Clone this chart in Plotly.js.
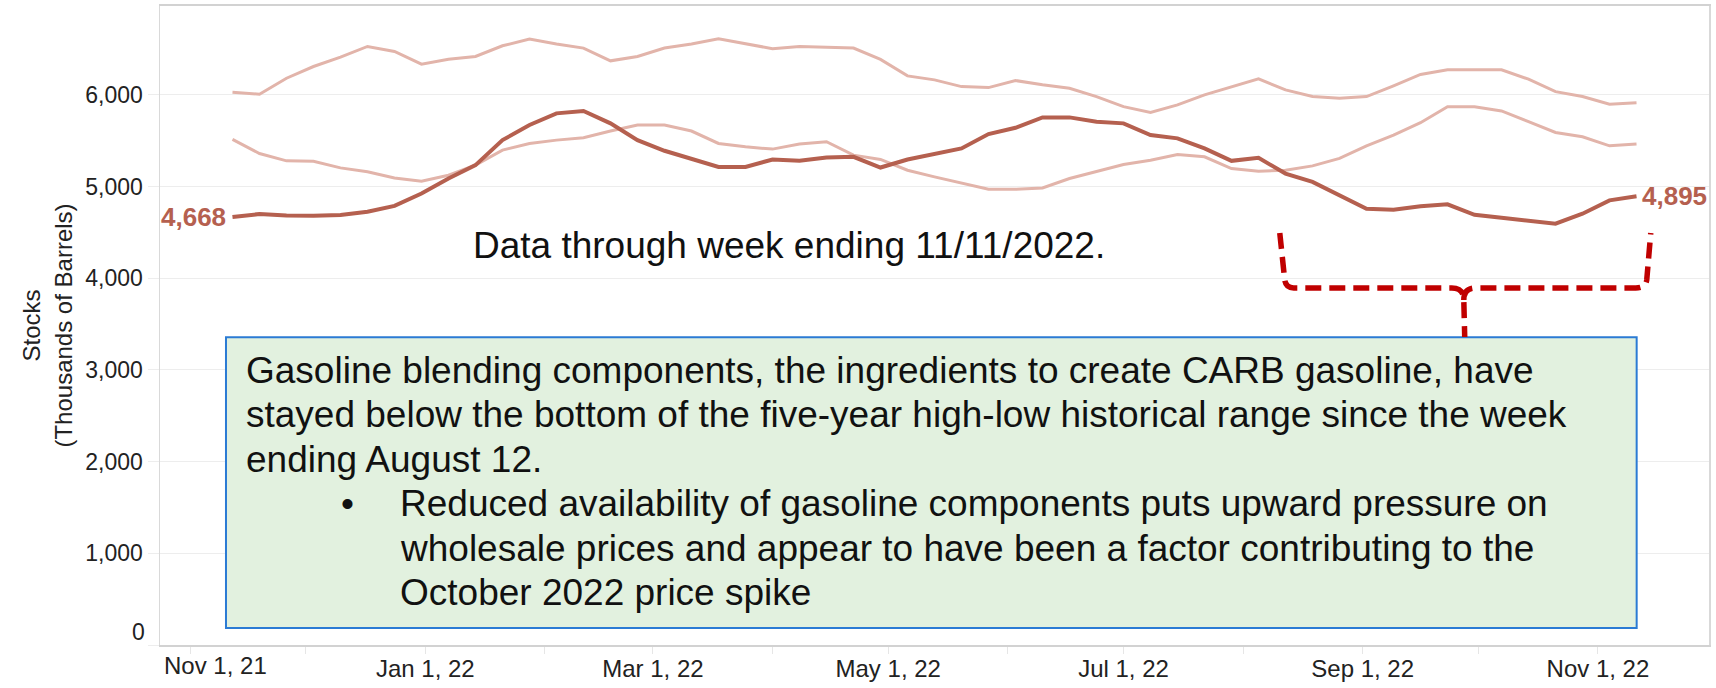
<!DOCTYPE html>
<html>
<head>
<meta charset="utf-8">
<script src="https://cdn.plot.ly/plotly-3.0.1.min.js"></script>
<style>
  html, body { margin: 0; padding: 0; background: #ffffff; }
  #chart { width: 1716px; height: 688px; }
</style>
</head>
<body>
<div id="chart"></div>
<script>
// Week-ending dates (weekly data through 11/11/2022)
const weeks = [
  '2021-11-12','2021-11-19','2021-11-26','2021-12-03','2021-12-10','2021-12-17','2021-12-24','2021-12-31',
  '2022-01-07','2022-01-14','2022-01-21','2022-01-28','2022-02-04','2022-02-11','2022-02-18','2022-02-25',
  '2022-03-04','2022-03-11','2022-03-18','2022-03-25','2022-04-01','2022-04-08','2022-04-15','2022-04-22',
  '2022-04-29','2022-05-06','2022-05-13','2022-05-20','2022-05-27','2022-06-03','2022-06-10','2022-06-17',
  '2022-06-24','2022-07-01','2022-07-08','2022-07-15','2022-07-22','2022-07-29','2022-08-05','2022-08-12',
  '2022-08-19','2022-08-26','2022-09-02','2022-09-09','2022-09-16','2022-09-23','2022-09-30','2022-10-07',
  '2022-10-14','2022-10-21','2022-10-28','2022-11-04','2022-11-11'
];

// Gasoline blending component stocks (thousands of barrels)
const stocks = [
  4668, 4701, 4686, 4682, 4690, 4725, 4790, 4925,
  5088, 5234, 5507, 5672, 5799, 5825, 5690, 5507,
  5391, 5307, 5215, 5215, 5296, 5281, 5318, 5325,
  5208, 5296, 5354, 5416, 5573, 5642, 5755, 5755,
  5708, 5690, 5562, 5526, 5416, 5281, 5314, 5142,
  5051, 4905, 4759, 4748, 4785, 4807, 4693, 4661,
  4624, 4595, 4704, 4850, 4895
];

// Five-year high
const fiveYearHigh = [
  6030, 6007, 6182, 6310, 6412, 6529, 6474, 6336,
  6390, 6420, 6536, 6609, 6555, 6511, 6372, 6420,
  6511, 6555, 6613, 6555, 6504, 6529, 6522, 6511,
  6387, 6208, 6164, 6091, 6080, 6157, 6110, 6073,
  5982, 5872, 5810, 5891, 6000, 6084, 6175, 6055,
  5982, 5964, 5982, 6099, 6223, 6274, 6274, 6274,
  6172, 6036, 5982, 5898, 5916
];

// Five-year low
const fiveYearLow = [
  5515, 5361, 5281, 5277, 5204, 5161, 5095, 5058,
  5124, 5234, 5398, 5471, 5507, 5533, 5606, 5672,
  5672, 5606, 5471, 5434, 5409, 5464, 5489, 5343,
  5296, 5179, 5106, 5040, 4971, 4971, 4985, 5088,
  5161, 5241, 5288, 5350, 5325, 5197, 5168, 5179,
  5226, 5307, 5445, 5562, 5697, 5872, 5872, 5825,
  5708, 5591, 5544, 5445, 5464
];

// Axis ticks
const monthTicks = [
  '2021-11-01','2021-12-01','2022-01-01','2022-02-01','2022-03-01','2022-04-01','2022-05-01',
  '2022-06-01','2022-07-01','2022-08-01','2022-09-01','2022-10-01','2022-11-01'
];
const monthLabels = [
  '', '', 'Jan 1, 22', '', 'Mar 1, 22', '', 'May 1, 22', '', 'Jul 1, 22', '', 'Sep 1, 22', '', 'Nov 1, 22'
];
const firstTickLabel = 'Nov 1, 21';
const yTickVals = [0, 1000, 2000, 3000, 4000, 5000, 6000];
const yTickText = ['', '1,000', '2,000', '3,000', '4,000', '5,000', '6,000'];
const zeroLabel = '0';

// Text
const yTitle = 'Stocks<br>(Thousands of Barrels)';
const noteText = 'Data through week ending 11/11/2022.';
const boxLines = [
  'Gasoline blending components, the ingredients to create CARB gasoline, have',
  'stayed below the bottom of the five-year high-low historical range since the week',
  'ending August 12.'
];
const bulletLines = [
  'Reduced availability of gasoline components puts upward pressure on',
  'wholesale prices and appear to have been a factor contributing to the',
  'October 2022 price spike'
];

const FONT = 'Liberation Sans, Arial, sans-serif';
const MAIN = '#b5604f';
const LIGHT = '#e2b4aa';

const traces = [
  { x: weeks, y: fiveYearHigh, type: 'scatter', mode: 'lines', name: 'Five-Year High',
    line: { color: LIGHT, width: 3 }, hoverinfo: 'skip' },
  { x: weeks, y: fiveYearLow, type: 'scatter', mode: 'lines', name: 'Five-Year Low',
    line: { color: LIGHT, width: 3 }, hoverinfo: 'skip' },
  { x: weeks, y: stocks, type: 'scatter', mode: 'lines', name: 'Gasoline Blending Components',
    line: { color: MAIN, width: 4 }, hoverinfo: 'skip' }
];

const annotations = [];

// end labels
annotations.push({
  x: weeks[0], y: stocks[0], xref: 'x', yref: 'y', showarrow: false,
  text: stocks[0].toLocaleString('en-US'), xanchor: 'right', yanchor: 'middle', xshift: -5,
  font: { family: FONT, size: 26, color: MAIN, weight: 700 }, borderpad: 0
});
annotations.push({
  x: weeks[weeks.length - 1], y: stocks[stocks.length - 1], xref: 'x', yref: 'y', showarrow: false,
  text: stocks[stocks.length - 1].toLocaleString('en-US'), xanchor: 'left', yanchor: 'middle', xshift: 4,
  font: { family: FONT, size: 26, color: MAIN, weight: 700 }, borderpad: 0
});

// first x tick label (shifted inward like the original)
annotations.push({
  x: monthTicks[0], y: 0, xref: 'x', yref: 'paper', showarrow: false,
  text: firstTickLabel, xanchor: 'center', yanchor: 'top', xshift: 25, yshift: -6,
  font: { family: FONT, size: 24, color: '#222' }, borderpad: 0
});

// raised "0" y tick label
annotations.push({
  x: 0, y: yTickVals[0], xref: 'paper', yref: 'y', showarrow: false,
  text: zeroLabel, xanchor: 'right', yanchor: 'middle', xshift: -14, yshift: 13,
  font: { family: FONT, size: 23, color: '#222' }, borderpad: 0
});

// Note text
annotations.push({
  x: 0.2012, y: 0.6254, xref: 'paper', yref: 'paper', showarrow: false,
  text: noteText, xanchor: 'left', yanchor: 'middle',
  font: { family: FONT, size: 37, color: '#111' }, borderpad: 0
});

// Box text lines
const lineYs = [0.4297, 0.3601, 0.2905];
boxLines.forEach((t, i) => annotations.push({
  x: 0.0550, y: lineYs[i], xref: 'paper', yref: 'paper', showarrow: false,
  text: t, xanchor: 'left', yanchor: 'middle',
  font: { family: FONT, size: 37, color: '#111' }, borderpad: 0
}));
const bulletYs = [0.2208, 0.1512, 0.0815];
bulletLines.forEach((t, i) => annotations.push({
  x: 0.1540, y: bulletYs[i], xref: 'paper', yref: 'paper', showarrow: false,
  text: t, xanchor: 'left', yanchor: 'middle',
  font: { family: FONT, size: 37, color: '#111' }, borderpad: 0
}));
annotations.push({
  x: 0.1213, y: bulletYs[0], xref: 'paper', yref: 'paper', showarrow: false,
  text: '•', xanchor: 'center', yanchor: 'middle',
  font: { family: FONT, size: 37, color: '#111' }, borderpad: 0
});

const bracketLeft = 'M 0.7229 0.6448 L 0.7261 0.5712 Q 0.7268 0.5587 0.7319 0.5587 L 0.8339 0.5587 Q 0.8417 0.5587 0.8417 0.5399 L 0.8423 0.4820';
const bracketRight = 'M 0.8417 0.5399 Q 0.8417 0.5587 0.8494 0.5587 L 0.9527 0.5587 Q 0.9591 0.5587 0.9598 0.5712 L 0.9624 0.6448';

const shapes = [
  { type: 'rect', xref: 'paper', yref: 'paper', x0: 0.0426, x1: 0.9533, y0: 0.0266, y1: 0.4815,
    fillcolor: '#e2f1df', line: { color: '#2b7bd4', width: 2 }, layer: 'above' },
  { type: 'path', xref: 'paper', yref: 'paper', path: bracketLeft,
    line: { color: '#c00000', width: 5.5, dash: '16px,8px' }, layer: 'above' },
  { type: 'path', xref: 'paper', yref: 'paper', path: bracketRight,
    line: { color: '#c00000', width: 5.5, dash: '16px,8px' }, layer: 'above' }
];

const layout = {
  width: 1716, height: 688,
  margin: { l: 160, r: 7, t: 6, b: 43 },
  paper_bgcolor: '#ffffff', plot_bgcolor: '#ffffff',
  showlegend: false,
  font: { family: FONT, color: '#222' },
  xaxis: {
    type: 'date',
    range: ['2021-10-24 05:00', '2022-11-29 19:00'],
    tickmode: 'array', tickvals: monthTicks, ticktext: monthLabels,
    ticks: 'outside', ticklen: 7, tickcolor: '#e6e6e6', tickwidth: 1,
    ticklabelstandoff: -6,
    tickfont: { family: FONT, size: 24, color: '#222' },
    showgrid: false, zeroline: false,
    showline: true, linecolor: '#d2d2d2', linewidth: 2, mirror: true
  },
  yaxis: {
    range: [0, 6970],
    tickmode: 'array', tickvals: yTickVals, ticktext: yTickText,
    ticks: 'outside', ticklen: 11, tickcolor: '#ededed', tickwidth: 1,
    tickfont: { family: FONT, size: 23, color: '#222' },
    showgrid: true, gridcolor: '#ededed', gridwidth: 1,
    zeroline: false,
    showline: true, linecolor: '#d9d9d9', linewidth: 1.5, mirror: true,
    title: { text: yTitle, font: { family: FONT, size: 24, color: '#222' }, standoff: 6 }
  },
  annotations: annotations,
  shapes: shapes
};

Plotly.newPlot('chart', traces, layout, { displayModeBar: false, staticPlot: true });
</script>
</body>
</html>
